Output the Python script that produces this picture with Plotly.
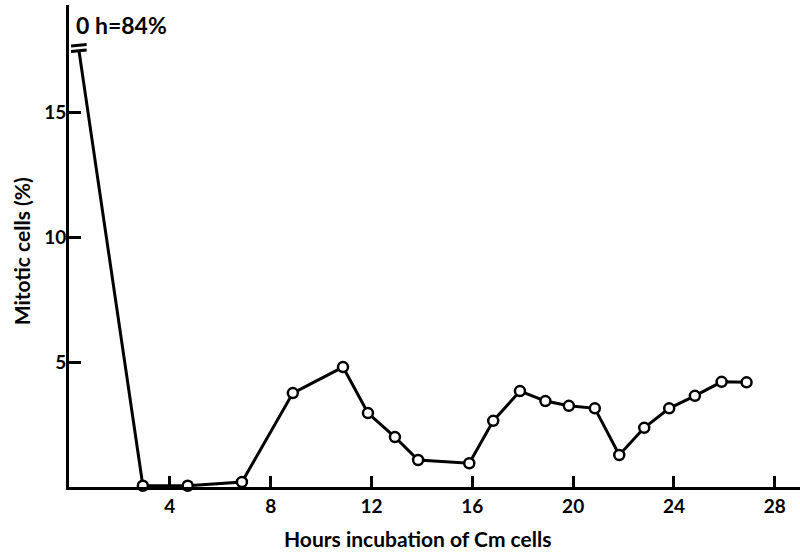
import plotly.graph_objects as go

# Hours of incubation (first entry is the broken-axis start of the 0 h = 84% value)
hours = [0.4, 2.93, 4.71, 6.86, 8.88, 10.87, 11.86, 12.93, 13.85, 15.88, 16.83,
         17.89, 18.9, 19.83, 20.86, 21.83, 22.82, 23.81, 24.83, 25.89, 26.88]
mitotic = [17.44, 0.05, 0.05, 0.2, 3.76, 4.8, 2.96, 2.0, 1.08, 0.95, 2.65,
           3.84, 3.44, 3.25, 3.15, 1.28, 2.37, 3.15, 3.65, 4.21, 4.19]

x_ticks = [4, 8, 12, 16, 20, 24, 28]
y_ticks = [5, 10, 15]
x_title = "Hours incubation of Cm cells"
y_title = "Mitotic cells (%)"
zero_label = "0 h=84%"

FONT = "Lato"

fig = go.Figure()
fig.add_trace(go.Scatter(x=hours, y=mitotic, mode="lines",
                         line=dict(color="black", width=3), hoverinfo="skip",
                         showlegend=False, cliponaxis=False))
fig.add_trace(go.Scatter(x=hours[1:], y=mitotic[1:], mode="markers",
                         marker=dict(size=10, color="white", symbol="circle",
                                     line=dict(color="black", width=2.5)),
                         showlegend=False, cliponaxis=False))

# axis-break marks at the top of the first segment
bx, by = hours[0], mitotic[0]
for dy in (0.0, 0.22):
    fig.add_shape(type="line", x0=bx - 0.32, x1=bx + 0.3, y0=by + dy, y1=by + dy + 0.06,
                  line=dict(color="black", width=3))

fig.add_annotation(x=0.19, y=18.5, xref="x", yref="y", text=zero_label,
                   showarrow=False, xanchor="left", yanchor="middle",
                   font=dict(family=FONT, size=23, color="black", weight="bold"))

# x-axis title (positioned slightly left of plot centre, as in the original)
fig.add_annotation(x=0.477, y=-0.106, xref="paper", yref="paper", text=x_title,
                   showarrow=False, xanchor="center", yanchor="middle",
                   font=dict(family=FONT, size=21, color="black", weight="bold"))

# y-axis title placed by annotation for precise positioning
fig.add_annotation(x=-0.065, y=0.49, xref="paper", yref="paper", text=y_title,
                   showarrow=False, xanchor="center", yanchor="middle", textangle=-90,
                   font=dict(family=FONT, size=21, color="black", weight="bold"))

fig.update_layout(
    width=800, height=552,
    margin=dict(l=69, r=0, t=5, b=65),
    paper_bgcolor="white", plot_bgcolor="white",
    font=dict(family=FONT, color="black", size=18, weight="bold"),
)
fig.update_xaxes(range=[0, 29.0], tickvals=x_ticks, ticks="inside", ticklen=11,
                 tickwidth=3, tickcolor="black", showline=True, linewidth=3,
                 linecolor="black", showgrid=False, zeroline=False,
                 automargin=False, ticklabelstandoff=0,
                 tickfont=dict(size=19))
fig.update_yaxes(range=[0, 19.3], tickvals=y_ticks, ticks="inside", ticklen=12,
                 tickwidth=3, tickcolor="black", showline=True, linewidth=3,
                 linecolor="black", showgrid=False, zeroline=False,
                 automargin=False, ticklabelstandoff=-4,
                 tickfont=dict(size=19))

fig.write_html("out.html", config={"displayModeBar": False},
               post_script="document.body.style.margin='0';document.body.style.overflow='hidden';")
